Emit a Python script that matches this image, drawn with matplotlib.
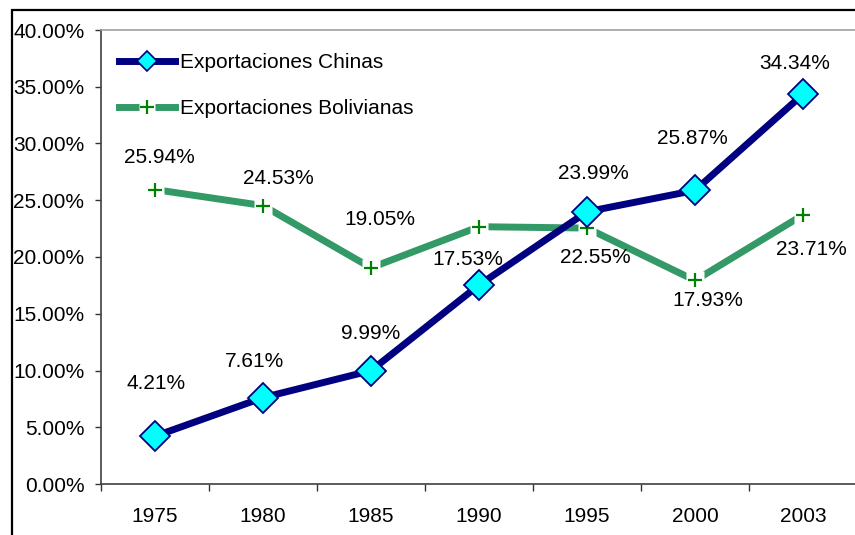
import matplotlib
matplotlib.use("Agg")
import matplotlib.pyplot as plt
from matplotlib.lines import Line2D
from matplotlib.patches import Rectangle
from matplotlib.ticker import FuncFormatter, FixedLocator

plt.rcParams['font.family'] = ['Liberation Sans', 'DejaVu Sans']

years = ['1975', '1980', '1985', '1990', '1995', '2000', '2003']
china = [4.21, 7.61, 9.99, 17.53, 23.99, 25.87, 34.34]
bolivia = [25.94, 24.53, 19.05, 22.67, 22.55, 17.93, 23.71]
bolivia_labels = ['25.94%', '24.53%', '19.05%', '', '22.55%', '17.93%', '23.71%']
china_labels = ['4.21%', '7.61%', '9.99%', '17.53%', '23.99%', '25.87%', '34.34%']
series_names = ['Exportaciones Chinas', 'Exportaciones Bolivianas']

# label offsets in pixels (dx, dy up-positive)
china_off = [(1, 53), (-9, 36), (0, 37), (-11, 26), (6, 38), (-3, 52), (-8, 31)]
bol_off = [(4, 32), (15, 27), (9, 48), (0, 0), (8, -29), (13, -20), (8, -35)]

W, H = 855, 535
fig = plt.figure(figsize=(W / 100, H / 100), dpi=100)
fig.patch.set_facecolor('white')

# outer chart border
fig.add_artist(Rectangle((12 / W, -0.1), 1.2, (H - 10) / H + 0.1, transform=fig.transFigure,
                         fill=False, edgecolor='black', lw=1.6))

ax = fig.add_axes([101 / W, (H - 484) / H, 756 / W, 454 / H])
x = list(range(len(years)))

navy = '#000080'
green = '#339966'
fs = 15

# Bolivia series: line, white gaps, plus markers
ax.plot(x, [v / 100 for v in bolivia], color=green, lw=5, solid_capstyle='butt', zorder=2, clip_on=False)
ax.plot(x, [v / 100 for v in bolivia], ls='none', marker='s', ms=13, mfc='white', mec='none', zorder=3, clip_on=False)
ax.plot(x, [v / 100 for v in bolivia], ls='none', marker='+', ms=10, mew=1.6, color='#008000', zorder=4, clip_on=False)

# China series
ax.plot(x, [v / 100 for v in china], color=navy, lw=5, zorder=5, clip_on=False)
ax.plot(x, [v / 100 for v in china], ls='none', marker='D', ms=15.5, mfc='#00FFFF', mec=navy, mew=1.3, zorder=6, clip_on=False)

for i in x:
    ax.annotate(china_labels[i], (i, china[i] / 100), xytext=china_off[i], textcoords='offset pixels',
                ha='center', va='center', fontsize=fs, color='black', zorder=7)
    if bolivia_labels[i]:
        ax.annotate(bolivia_labels[i], (i, bolivia[i] / 100), xytext=bol_off[i], textcoords='offset pixels',
                    ha='center', va='center', fontsize=fs, color='black', zorder=7)

ax.set_xlim(-0.5, len(years) - 0.5)
ax.set_ylim(0, 0.40)
ax.set_yticks([i * 0.05 for i in range(9)])
ax.yaxis.set_major_formatter(FuncFormatter(lambda v, p: f"{v * 100:.2f}%"))
ax.set_xticks(x)
ax.set_xticklabels(years)
ax.xaxis.set_minor_locator(FixedLocator([i - 0.5 for i in range(len(years) + 1)]))
ax.tick_params(axis='x', which='major', length=0, pad=16.5, labelsize=fs)
ax.tick_params(axis='x', which='minor', length=5, width=1, color='#333333', direction='out')
ax.tick_params(axis='y', length=4, width=1, color='#333333', direction='out', pad=8, labelsize=fs)

ax.spines['right'].set_visible(False)
ax.spines['top'].set_color('#a0a0a0')
ax.spines['top'].set_linewidth(1.2)
ax.spines['left'].set_color('#404040')
ax.spines['bottom'].set_color('#404040')
ax.spines['left'].set_linewidth(1.2)
ax.spines['bottom'].set_linewidth(1.2)

h1 = (Line2D([], [], color=navy, lw=5),
      Line2D([], [], ls='none', marker='D', ms=10, mfc='#00FFFF', mec=navy, mew=1.2))
h2 = (Line2D([], [], color=green, lw=5),
      Line2D([], [], ls='none', marker='s', ms=12, mfc='white', mec='none'),
      Line2D([], [], ls='none', marker='+', ms=10, mew=1.6, color='#008000'))
leg = ax.legend([h1, h2], series_names, loc='upper left', bbox_to_anchor=(-0.007, 1.0),
                frameon=False, fontsize=fs, handlelength=2.7, handletextpad=0.25,
                labelspacing=1.3, borderaxespad=0.6, borderpad=0.5)

fig.savefig('out.png', dpi=100)
